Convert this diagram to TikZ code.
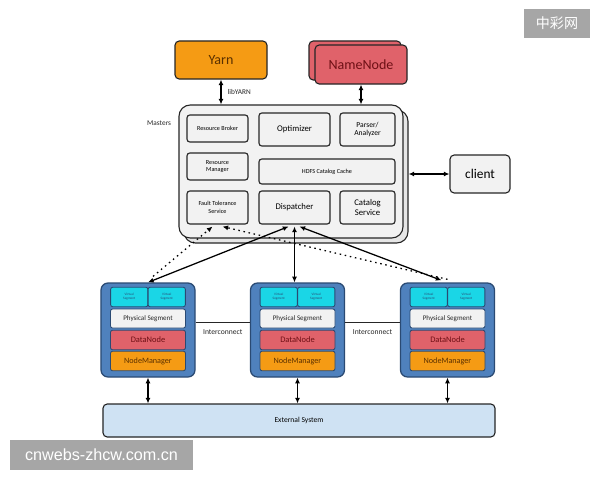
\documentclass[tikz,border=0pt]{standalone}
\usepackage{fontspec}
\setmainfont{Carlito}
\newfontfamily\wmfont{Liberation Sans}
\newfontfamily\cjkfont{Noto Sans CJK SC}
\usetikzlibrary{calc, arrows.meta}
\definecolor{Ink}{HTML}{262626}
\definecolor{Paper}{HTML}{F2F2F2}
\definecolor{PaperDark}{HTML}{E6E6E6}
\definecolor{Amber}{HTML}{F59B14}
\definecolor{AmberText}{HTML}{5A3000}
\definecolor{Rose}{HTML}{E0626A}
\definecolor{RoseText}{HTML}{6E1015}
\definecolor{Steel}{HTML}{4F81BD}
\definecolor{SteelDark}{HTML}{2A4A73}
\definecolor{Aqua}{HTML}{1AD6E6}
\definecolor{Sky}{HTML}{CFE2F3}
\definecolor{Stamp}{HTML}{A6A6A6}
\tikzset{
  box/.style={draw=Ink, line width=0.8pt, rounded corners=2pt, fill=Paper,
    align=center, inner sep=1pt},
  master/.style={box, rounded corners=8pt, minimum width=56mm, minimum height=33.25mm},
  inbox/.style={box, font=\fontsize{4.4}{5.2}\selectfont},
  bigin/.style={box, font=\fontsize{6.2}{7}\selectfont},
  host/.style={draw=SteelDark, line width=0.9pt, fill=Steel, rounded corners=5pt,
    minimum width=23.5mm, minimum height=23.5mm},
  layer/.style={draw=SteelDark, line width=0.6pt, rounded corners=1.5pt, align=center,
    inner sep=0.5pt, minimum width=18.75mm, minimum height=4.9mm},
  conn/.style={line width=0.9pt, draw=black},
  lbl/.style={font=\fontsize{5.2}{6}\selectfont, text=Ink},
  wm/.style={fill=Stamp, text=white, inner sep=0pt}
}

\begin{document}
\begin{tikzpicture}[x=0.25mm, y=-0.25mm, >={Latex[length=4pt,width=3.6pt]}]
\useasboundingbox (0,0) rectangle (600,480);

% top services
\node[box, fill=Amber, rounded corners=3pt, minimum width=23mm, minimum height=9.5mm,
  font=\fontsize{10}{12}\selectfont, text=AmberText] (yarn) at (221,60) {Yarn};
\node[box, fill=Rose, rounded corners=3pt, minimum width=23mm, minimum height=9.75mm] (nnback) at (355,60.5) {};
\node[box, fill=Rose, rounded corners=3pt, minimum width=23mm, minimum height=9.75mm,
  font=\fontsize{10}{12}\selectfont, text=RoseText] (nn) at (361,64.5) {NameNode};

% masters
\node[master, fill=PaperDark] (mback) at (296,176.5) {};
\node[master] (masters) at (291,171.5) {};
\node[lbl, anchor=east] (mlabel) at (176,123) {Masters};

\node[inbox, minimum width=15.25mm, minimum height=6.75mm] (rb) at (217.5,128.5) {Resource Broker};
\node[bigin, minimum width=17.75mm, minimum height=8.25mm] (opt) at (294.5,129.5) {Optimizer};
\node[box, font=\fontsize{5.4}{6.2}\selectfont, minimum width=13.75mm, minimum height=8.25mm] (parser) at (367.5,129.5) {Parser/\\Analyzer};
\node[inbox, minimum width=15.25mm, minimum height=6.75mm] (rm) at (217.5,166.5) {Resource\\Manager};
\node[inbox, minimum width=34mm, minimum height=6.25mm] (hdfs) at (327,171.5) {HDFS Catalog Cache};
\node[inbox, minimum width=15.25mm, minimum height=8.25mm] (fts) at (217.5,207.5) {Fault Tolerance\\Service};
\node[bigin, minimum width=17.75mm, minimum height=8.25mm] (disp) at (294.5,207.5) {Dispatcher};
\node[bigin, minimum width=13.75mm, minimum height=8.25mm] (cat) at (367.5,207.5) {Catalog\\Service};

% client
\node[box, rounded corners=3pt, minimum width=15mm, minimum height=9.5mm,
  font=\fontsize{9.5}{11}\selectfont] (client) at (480,174) {client};

% segment hosts
\foreach \h/\x in {a/148, b/297.5, c/447.5}{
  \node[host] (host\h) at (\x,330) {};
  \node[layer, fill=Aqua, minimum width=9.3mm, font=\fontsize{2.4}{2.8}\selectfont, text=SteelDark]
    (vs\h1) at (\x-18.75,297) {Virtual\\Segment};
  \node[layer, fill=Aqua, minimum width=9.3mm, font=\fontsize{2.4}{2.8}\selectfont, text=SteelDark]
    (vs\h2) at (\x+18.75,297) {Virtual\\Segment};
  \node[layer, fill=Paper, minimum height=4.75mm, font=\fontsize{5}{6}\selectfont, text=Ink]
    (ps\h) at (\x,318.5) {Physical Segment};
  \node[layer, fill=Rose, font=\fontsize{6}{7}\selectfont, text=RoseText] (dn\h) at (\x,340) {DataNode};
  \node[layer, fill=Amber, font=\fontsize{5.8}{7}\selectfont, text=AmberText] (nm\h) at (\x,361) {NodeManager};
}

% external system
\node[box, fill=Sky, rounded corners=3pt, minimum width=98mm, minimum height=8.25mm,
  font=\fontsize{5.4}{6.5}\selectfont] (ext) at (299,420.5) {External System};

% connectors
\draw[<->, conn] (yarn.south) -- (yarn.south |- masters.north)
  node[midway, right=1pt, lbl] {libYARN};
\draw[<->, conn] (nn.south) -- (nn.south |- masters.north);
\draw[<->, conn] (client.west) -- (client.west -| mback.east);

\draw[<->, conn] (hosta.north) -- ($(disp.south)+(-6,2)$);
\draw[<->, conn] (disp.south |- hostb.north) -- ($(disp.south)+(0,2)$);
\draw[<->, conn] ($(hostc.north)+(-6,-2)$) -- ($(disp.south)+(5,2)$);
\draw[->, conn, dash pattern=on 1.1pt off 2.6pt] ($(hosta.north)+(5,-6)$) -- ($(fts.south)+(-5,2)$);
\draw[->, conn, dash pattern=on 1.1pt off 2.6pt] ($(hostc.north)+(0,-3)$) -- ($(fts.south)+(5,2)$);

\draw[line width=0.6pt, Ink] ($(hosta.east)+(0,-8)$) -- ($(hostb.west)+(0,-8)$)
  node[midway, below=1.5pt, lbl, font=\fontsize{5.4}{6.5}\selectfont] {Interconnect};
\draw[line width=0.6pt, Ink] ($(hostb.east)+(0,-8)$) -- ($(hostc.west)+(0,-8)$)
  node[midway, below=1.5pt, lbl, font=\fontsize{5.4}{6.5}\selectfont] {Interconnect};

\foreach \h in {a,b,c}
  \draw[<->, conn] (host\h.south) -- (host\h.south |- ext.north);

% watermarks
\node[wm, minimum width=16.5mm, minimum height=7.25mm, font=\cjkfont\fontsize{10}{12}\selectfont]
  (wmtop) at (557,23.5) {中彩网};
\node[wm, minimum width=45.75mm, minimum height=7.5mm, font=\wmfont\fontsize{11.5}{14}\selectfont]
  (wmbot) at (101.5,455) {cnwebs-zhcw.com.cn};
\end{tikzpicture}
\end{document}
